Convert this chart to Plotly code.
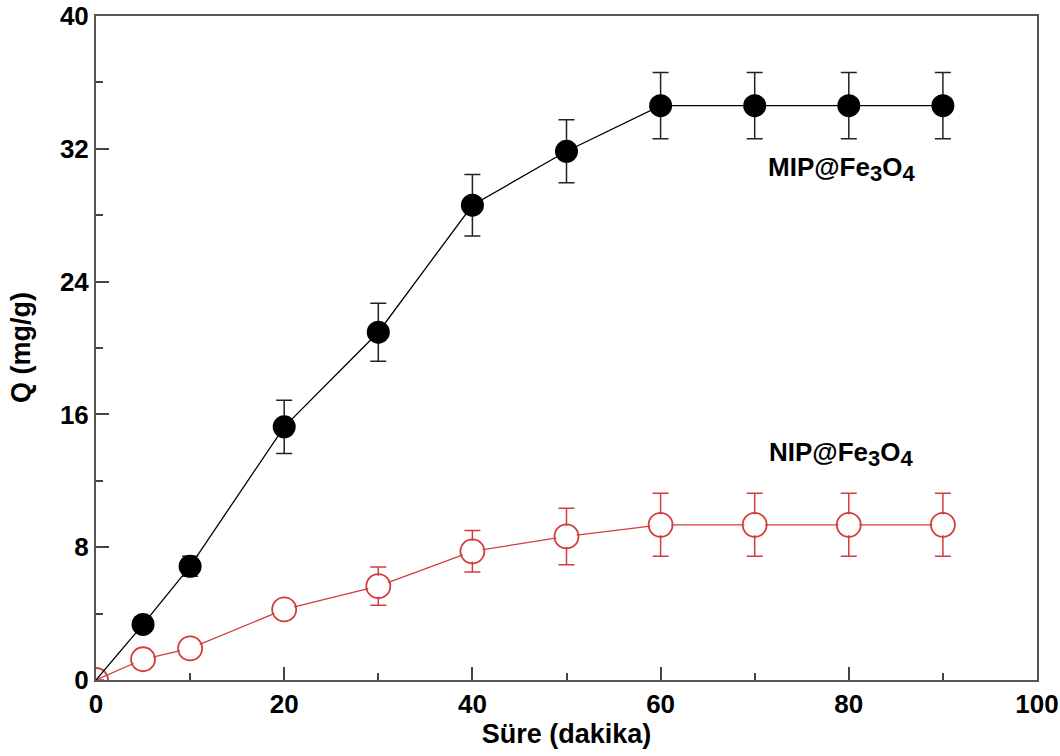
import plotly.graph_objects as go

time = [0, 5, 10, 20, 30, 40, 50, 60, 70, 80, 90]
mip_q = [0, 3.35, 6.85, 15.25, 20.95, 28.6, 31.85, 34.6, 34.6, 34.6, 34.6]
mip_err = [0, 0.3, 0.6, 1.6, 1.75, 1.85, 1.9, 2.0, 2.0, 2.0, 2.0]
nip_q = [0, 1.25, 1.9, 4.25, 5.65, 7.75, 8.65, 9.35, 9.35, 9.35, 9.35]
nip_err = [0, 0.3, 0.3, 0.3, 1.15, 1.25, 1.7, 1.9, 1.9, 1.9, 1.9]

x_ticks = [0, 20, 40, 60, 80, 100]
y_ticks = [0, 8, 16, 24, 32, 40]

red = "#d23c3c"
font = "Liberation Sans, Arial, sans-serif"

fig = go.Figure()
fig.add_trace(go.Scatter(
    x=time, y=nip_q, mode="lines+markers",
    line=dict(color=red, width=1.3),
    marker=dict(symbol="circle-open", size=24, color=red, line=dict(width=1.8, color=red)),
    error_y=dict(type="data", array=nip_err, color=red, thickness=1.5, width=8),
    showlegend=False,
))
fig.add_trace(go.Scatter(
    x=time[1:], y=nip_q[1:], mode="markers",
    marker=dict(symbol="circle", size=21, color="white"),
    hoverinfo="skip", showlegend=False,
))
fig.add_trace(go.Scatter(
    x=time, y=mip_q, mode="lines",
    line=dict(color="black", width=1.3),
    showlegend=False,
))
fig.add_trace(go.Scatter(
    x=time[1:], y=mip_q[1:], mode="markers",
    marker=dict(symbol="circle", size=23, color="black"),
    error_y=dict(type="data", array=mip_err[1:], color="#222222", thickness=1.5, width=8),
    showlegend=False,
))

sub3 = "<sub><span style='font-size:22px'>3</span></sub>"
sub4 = "<sub><span style='font-size:22px'>4</span></sub>"
fig.add_annotation(x=79.2, y=30.8, xref="x", yref="y",
                   text="MIP@Fe" + sub3 + "O" + sub4, showarrow=False,
                   font=dict(family=font, size=26, color="black", weight="bold"), xanchor="center")
fig.add_annotation(x=79.2, y=13.6, xref="x", yref="y",
                   text="NIP@Fe" + sub3 + "O" + sub4, showarrow=False,
                   font=dict(family=font, size=26, color="black", weight="bold"), xanchor="center")
fig.add_annotation(x=-(96 - 21) / 941, y=0.5, xref="paper", yref="paper",
                   text="Q (mg/g)", textangle=-90, showarrow=False,
                   font=dict(family=font, size=27, color="black", weight="bold"),
                   xanchor="center", yanchor="middle")

axis_common = dict(
    showgrid=False, zeroline=False, showline=True, linecolor="#555555", linewidth=2,
    mirror=True, ticks="inside", ticklen=13, tickwidth=2, tickcolor="#444444",
    tickfont=dict(family=font, size=26, color="black", weight="bold"),
    automargin=False,
)
fig.update_xaxes(range=[0, 100], tickvals=x_ticks,
                 minor=dict(ticks="inside", ticklen=7, tickwidth=2, tickcolor="#444444", dtick=10, tick0=0),
                 title=dict(text="Süre (dakika)", font=dict(family=font, size=27, color="black", weight="bold"), standoff=4),
                 **axis_common)
fig.update_yaxes(range=[0, 40], tickvals=y_ticks,
                 minor=dict(ticks="inside", ticklen=7, tickwidth=2, tickcolor="#444444", dtick=4, tick0=0),
                 **axis_common)
fig.update_layout(
    width=1060, height=756,
    margin=dict(l=96, r=23, t=16, b=76),
    plot_bgcolor="white", paper_bgcolor="white",
)
fig.write_html("out.html", config={"displayModeBar": False},
               post_script="document.body.style.margin='0';document.body.style.overflow='hidden';")
